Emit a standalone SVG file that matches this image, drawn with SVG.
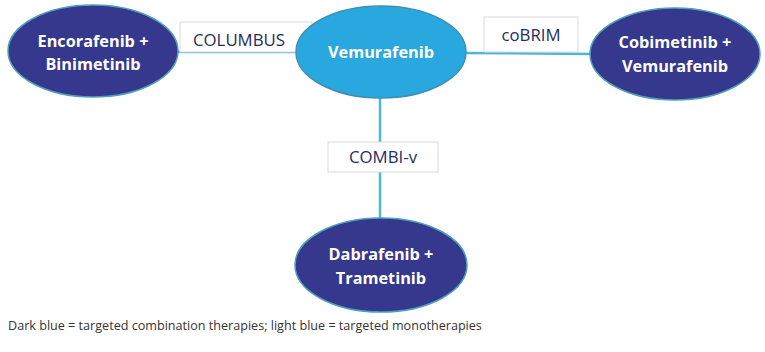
<svg xmlns="http://www.w3.org/2000/svg" width="765" height="352" viewBox="0 0 765 352">
<style>
.dark{fill:#35388c;stroke:#4f9fba;stroke-width:1.5}
.light{fill:#29a8df;stroke:#3f8fb5;stroke-width:1.5}
.nt{font-family:"Open Sans","Liberation Sans",sans-serif;font-weight:bold;font-size:16.3px;fill:#ffffff;text-anchor:middle}
.lb{fill:#ffffff;stroke:#d9d9d9;stroke-width:1}
.lt{font-family:"Open Sans","Liberation Sans",sans-serif;font-size:16.8px;fill:#1f2d5a;text-anchor:middle}
.cn{stroke:#4bb8d8;stroke-width:2.5;fill:none}
.note{font-family:"Open Sans","Liberation Sans",sans-serif;font-size:12.6px;fill:#333333}
</style>
<rect width="765" height="352" fill="#ffffff"/>
<g id="connectors">
<line class="cn" x1="176" y1="52" x2="300" y2="52"/>
<line class="cn" x1="462" y1="53" x2="594" y2="54"/>
<line class="cn" x1="380" y1="96" x2="380" y2="220"/>
</g>
<g id="label-columbus">
<rect class="lb" x="180" y="22" width="132" height="30"/>
<text class="lt" x="239" y="46">COLUMBUS</text>
</g>
<g id="label-cobrim">
<rect class="lb" x="484" y="17" width="94" height="35"/>
<text class="lt" x="531" y="41">coBRIM</text>
</g>
<g id="label-combiv">
<rect class="lb" x="328" y="142" width="110" height="30"/>
<text class="lt" x="383" y="163">COMBI-v</text>
</g>
<g id="node-encorafenib">
<ellipse class="dark" cx="93" cy="51" rx="85" ry="46"/>
<text class="nt" x="93" y="47">Encorafenib +</text>
<text class="nt" x="93" y="70">Binimetinib</text>
</g>
<g id="node-vemurafenib">
<ellipse class="light" cx="381" cy="52" rx="85" ry="46"/>
<text class="nt" x="381" y="58">Vemurafenib</text>
</g>
<g id="node-cobimetinib">
<ellipse class="dark" cx="675" cy="54" rx="85" ry="46"/>
<text class="nt" x="675" y="48">Cobimetinib +</text>
<text class="nt" x="675" y="72">Vemurafenib</text>
</g>
<g id="node-dabrafenib">
<ellipse class="dark" cx="381" cy="265" rx="86" ry="47"/>
<text class="nt" x="381" y="260">Dabrafenib +</text>
<text class="nt" x="381" y="284">Trametinib</text>
</g>
<text class="note" x="8" y="330">Dark blue = targeted combination therapies; light blue = targeted monotherapies</text>
</svg>
